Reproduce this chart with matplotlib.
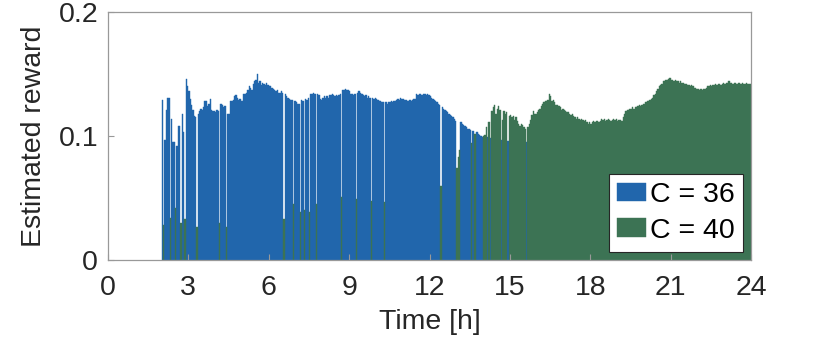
import numpy as np
import matplotlib
matplotlib.use("Agg")
import matplotlib.pyplot as plt

# estimated reward per 3-minute step, starting at 2.00 h (one row = half an hour)
step_h = 0.05
start_h = 2.0
reward = [
    0.129, 0.028, 0.097, 0.121, 0.131, 0.131, 0.034, 0.114, 0.095, 0.095,  # 2.0
    0.042, 0.092, 0.108, 0.108, 0.030, 0.118, 0.103, 0.033, 0.146, 0.140,  # 2.5
    0.136, 0.130, 0.125, 0.121, 0.116, 0.115, 0.027, 0.118, 0.120, 0.122,  # 3.0
    0.121, 0.123, 0.128, 0.128, 0.124, 0.126, 0.130, 0.121, 0.120, 0.120,  # 3.5
    0.119, 0.121, 0.120, 0.030, 0.126, 0.125, 0.123, 0.124, 0.027, 0.118,  # 4.0
    0.118, 0.128, 0.128, 0.129, 0.132, 0.133, 0.131, 0.129, 0.130, 0.128,  # 4.5
    0.128, 0.134, 0.134, 0.135, 0.137, 0.140, 0.139, 0.137, 0.142, 0.144,  # 5.0
    0.145, 0.150, 0.143, 0.144, 0.141, 0.143, 0.142, 0.141, 0.143, 0.141,  # 5.5
    0.140, 0.140, 0.139, 0.138, 0.137, 0.136, 0.137, 0.135, 0.135, 0.136,  # 6.0
    0.135, 0.033, 0.134, 0.132, 0.131, 0.130, 0.129, 0.129, 0.045, 0.128,  # 6.5
    0.127, 0.126, 0.126, 0.039, 0.129, 0.128, 0.040, 0.130, 0.129, 0.131,  # 7.0
    0.039, 0.134, 0.134, 0.135, 0.134, 0.045, 0.134, 0.133, 0.130, 0.129,  # 7.5
    0.131, 0.132, 0.131, 0.132, 0.131, 0.133, 0.133, 0.134, 0.133, 0.132,  # 8.0
    0.133, 0.132, 0.133, 0.134, 0.051, 0.137, 0.137, 0.138, 0.137, 0.137,  # 8.5
    0.136, 0.134, 0.134, 0.133, 0.134, 0.049, 0.135, 0.136, 0.135, 0.134,  # 9.0
    0.133, 0.132, 0.133, 0.131, 0.132, 0.131, 0.048, 0.131, 0.130, 0.131,  # 9.5
    0.130, 0.129, 0.128, 0.128, 0.127, 0.127, 0.047, 0.127, 0.126, 0.127,  # 10.0
    0.127, 0.128, 0.127, 0.128, 0.128, 0.129, 0.130, 0.129, 0.131, 0.130,  # 10.5
    0.130, 0.129, 0.129, 0.128, 0.128, 0.129, 0.128, 0.129, 0.130, 0.130,  # 11.0
    0.134, 0.133, 0.134, 0.134, 0.133, 0.134, 0.134, 0.133, 0.134, 0.133,  # 11.5
    0.132, 0.131, 0.130, 0.129, 0.128, 0.127, 0.126, 0.125, 0.060, 0.123,  # 12.0
    0.122, 0.121, 0.120, 0.119, 0.118, 0.117, 0.116, 0.115, 0.114, 0.112,  # 12.5
    0.074, 0.083, 0.089, 0.111, 0.110, 0.109, 0.108, 0.107, 0.106, 0.106,  # 13.0
    0.105, 0.094, 0.104, 0.102, 0.102, 0.103, 0.102, 0.101, 0.100, 0.099,  # 13.5
    0.100, 0.101, 0.107, 0.099, 0.111, 0.098, 0.120, 0.123, 0.125, 0.118,  # 14.0
    0.122, 0.124, 0.121, 0.097, 0.113, 0.120, 0.118, 0.119, 0.096, 0.116,  # 14.5
    0.117, 0.115, 0.116, 0.113, 0.115, 0.112, 0.110, 0.108, 0.110, 0.109,  # 15.0
    0.107, 0.106, 0.095, 0.107, 0.110, 0.113, 0.117, 0.120, 0.118, 0.118,  # 15.5
    0.119, 0.121, 0.122, 0.124, 0.126, 0.127, 0.128, 0.128, 0.129, 0.134,  # 16.0
    0.132, 0.128, 0.129, 0.127, 0.125, 0.125, 0.124, 0.123, 0.121, 0.122,  # 16.5
    0.121, 0.120, 0.119, 0.119, 0.118, 0.117, 0.118, 0.116, 0.115, 0.114,  # 17.0
    0.115, 0.114, 0.113, 0.114, 0.113, 0.112, 0.113, 0.111, 0.110, 0.111,  # 17.5
    0.110, 0.111, 0.112, 0.111, 0.112, 0.112, 0.111, 0.112, 0.114, 0.113,  # 18.0
    0.114, 0.112, 0.113, 0.114, 0.113, 0.112, 0.113, 0.114, 0.113, 0.114,  # 18.5
    0.112, 0.113, 0.113, 0.112, 0.115, 0.118, 0.120, 0.121, 0.121, 0.122,  # 19.0
    0.122, 0.123, 0.122, 0.123, 0.123, 0.124, 0.125, 0.124, 0.125, 0.126,  # 19.5
    0.126, 0.127, 0.128, 0.128, 0.129, 0.130, 0.131, 0.133, 0.134, 0.136,  # 20.0
    0.138, 0.140, 0.141, 0.142, 0.144, 0.144, 0.145, 0.145, 0.146, 0.147,  # 20.5
    0.145, 0.145, 0.144, 0.145, 0.144, 0.144, 0.143, 0.144, 0.143, 0.143,  # 21.0
    0.142, 0.142, 0.141, 0.141, 0.140, 0.141, 0.140, 0.139, 0.139, 0.138,  # 21.5
    0.138, 0.137, 0.138, 0.137, 0.138, 0.138, 0.139, 0.140, 0.140, 0.141,  # 22.0
    0.140, 0.141, 0.141, 0.142, 0.141, 0.142, 0.142, 0.141, 0.142, 0.143,  # 22.5
    0.142, 0.143, 0.143, 0.144, 0.143, 0.143, 0.142, 0.143, 0.143, 0.142,  # 23.0
    0.143, 0.143, 0.142, 0.143, 0.142, 0.142, 0.143, 0.142, 0.142, 0.142,  # 23.5
]

# which C was chosen: 36 before the handover unless listed, 40 after unless listed
handover_h = 13.0
c40_hours_early = [2.05, 2.30, 2.50, 2.70, 2.85, 3.30, 4.15, 4.40, 6.55, 6.90,
                   7.15, 7.30, 7.50, 7.75, 8.70, 9.25, 9.80, 10.30, 12.40]
c36_hours_late = [13.15, 13.20, 13.25, 13.30, 13.35, 13.40, 13.45, 13.50, 13.60,
                  13.75, 13.80, 13.85, 13.90, 13.95, 14.15, 14.25, 14.65, 14.90, 15.60]

labels = ["C = 36", "C = 40"]
colors = ["#2166ac", "#3c7354"]

t = np.round(start_h + step_h * np.arange(len(reward)), 2)
r = np.array(reward)
is36 = np.where(t < handover_h,
                ~np.isin(t, np.round(c40_hours_early, 2)),
                np.isin(t, np.round(c36_hours_late, 2)))

plt.rcParams["font.family"] = ["Liberation Sans", "DejaVu Sans"]
fig = plt.figure(figsize=(8.3, 3.4), dpi=100)
ax = fig.add_axes([0.130, 0.235, 0.775, 0.730])

ax.bar(t[is36], r[is36], width=step_h, align="edge", color=colors[0],
       edgecolor=colors[0], linewidth=0.3, label=labels[0])
ax.bar(t[~is36], r[~is36], width=step_h, align="edge", color=colors[1],
       edgecolor=colors[1], linewidth=0.3, label=labels[1])

ax.set_xlim(0, 24)
ax.set_ylim(0, 0.2)
ax.set_xticks(np.arange(0, 25, 3))
ax.set_yticks([0, 0.1, 0.2])
ax.set_yticklabels(["0", "0.1", "0.2"])
ax.tick_params(direction="in", length=4.5, width=0.8, color="#999999",
               labelsize=20.5, labelcolor="#262626")
ax.tick_params(axis="y", pad=7)
ax.tick_params(axis="x", pad=10.5)
for s in ax.spines.values():
    s.set_color("#999999")
    s.set_linewidth(0.9)
ax.set_xlabel("Time [h]", fontsize=20.5, color="#262626", labelpad=6)
ax.set_ylabel("Estimated reward", fontsize=20.5, color="#262626", labelpad=8)

leg = ax.legend(loc="lower right", fontsize=20.5, frameon=True, fancybox=False,
                handlelength=1.05, handleheight=0.63, handletextpad=0.12,
                labelspacing=0.33, borderpad=0.28, borderaxespad=0.3)
leg.get_frame().set_edgecolor("#262626")
leg.get_frame().set_linewidth(0.8)
leg.get_frame().set_alpha(1)

fig.savefig("out.png", dpi=100)
